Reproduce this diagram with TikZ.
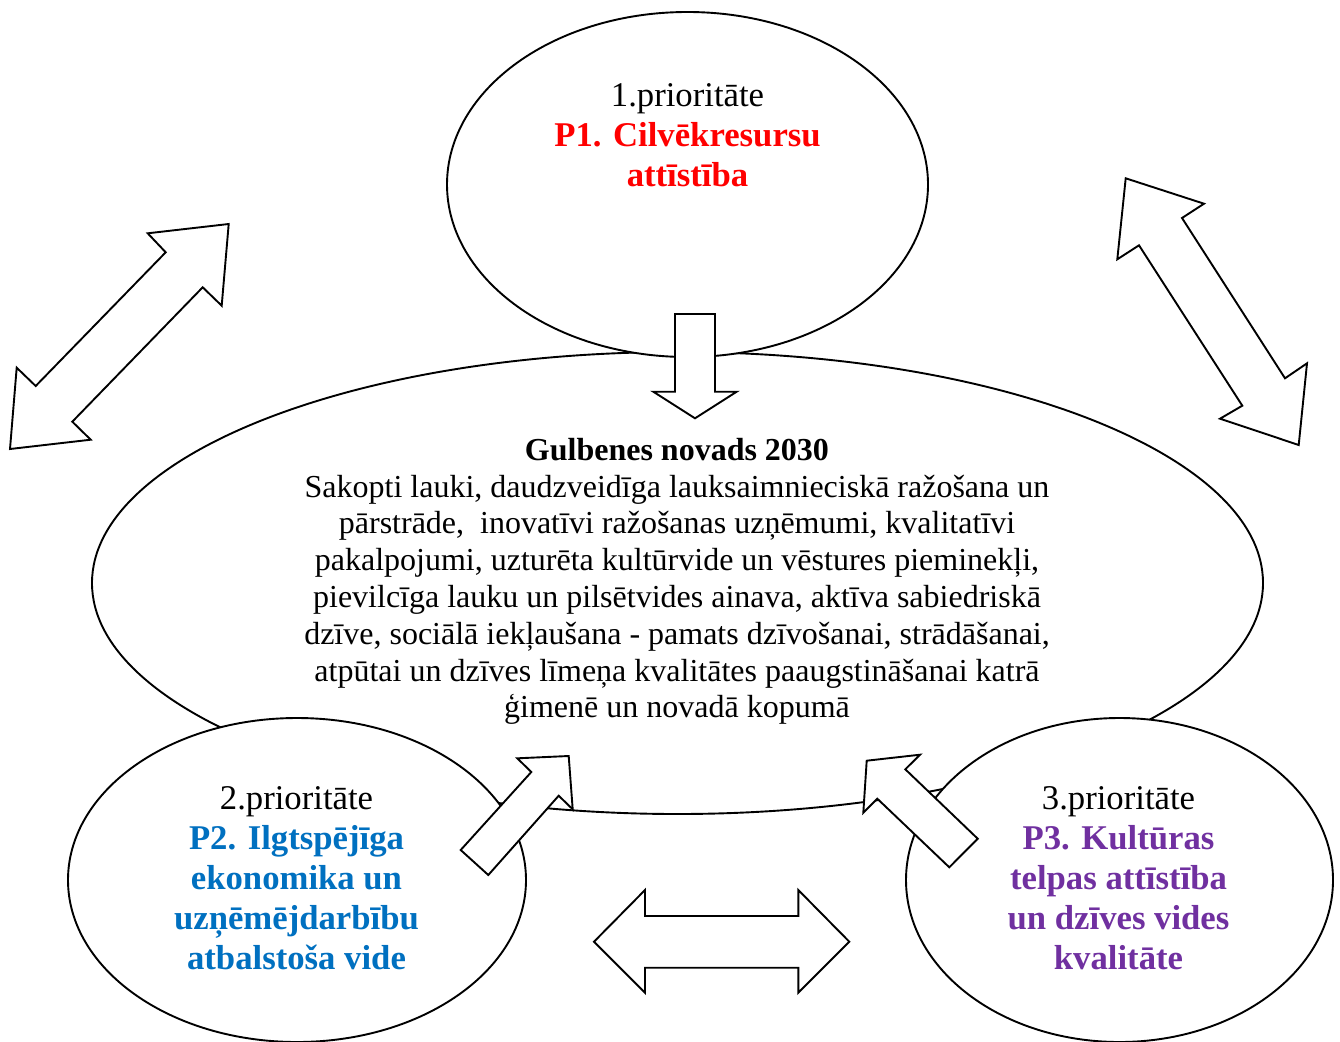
\documentclass[tikz,border=0pt]{standalone}
\usepackage{fontspec}
\setmainfont{Liberation Serif}
\usetikzlibrary{shapes.geometric}
\definecolor{pred}{HTML}{FF0000}
\definecolor{pblue}{HTML}{0070C0}
\definecolor{ppurple}{HTML}{7030A0}
\begin{document}
\begin{tikzpicture}[x=1pt,y=-1pt,
  oval/.style={draw, ellipse, fill=white, line width=1.9pt, inner sep=0pt, outer sep=0pt},
  blockarrow/.style={draw, fill=white, line width=1.9pt, line join=miter},
  maintext/.style={align=center, font=\fontsize{32}{36.8}\selectfont, inner sep=0pt},
  sidetext/.style={align=center, font=\fontsize{34.7}{40}\selectfont, inner sep=0pt}]
\useasboundingbox (0,0) rectangle (1340,1041);
% ellipses
\node[oval, minimum width=1171pt, minimum height=462pt] (center) at (677.5,583) {};
\node[oval, minimum width=481pt, minimum height=345pt] (p1) at (687.5,184.5) {};
\node[oval, minimum width=458pt, minimum height=324pt] (p2) at (297,880) {};
\node[oval, minimum width=427pt, minimum height=324pt] (p3) at (1119.5,880) {};
% block arrows
\draw[blockarrow] (228.7,224) -- (147.7,233.3) -- (165.7,252.3) -- (35.7,386) -- (16.7,367.7) -- (10,449) -- (90.7,439.7) -- (72.3,421.7) -- (202.7,287.3) -- (221.7,305.7) -- cycle;
\draw[blockarrow] (1125.7,178.3) -- (1204,203.7) -- (1182,218) -- (1285,378.3) -- (1307,363.3) -- (1298.7,445) -- (1220,418.7) -- (1242.3,405.7) -- (1139,245.3) -- (1117.3,259.3) -- cycle;
\draw[blockarrow] (675,314) -- (715,314) -- (715,391.7) -- (736.7,391.7) -- (695,418.3) -- (653.3,391.7) -- (675,391.7) -- cycle;
\draw[blockarrow] (517.3,758.3) -- (568.7,756) -- (572.7,809.3) -- (558.7,795.7) -- (488.3,875) -- (460.7,850) -- (531.3,772) -- cycle;
\draw[blockarrow] (866.7,760.7) -- (920,754.7) -- (905.3,769.3) -- (977.7,838.7) -- (949.3,867.3) -- (877.3,798.7) -- (863.3,812.7) -- cycle;
\draw[blockarrow] (594,941.7) -- (645,890) -- (645,916) -- (798.3,916) -- (798.3,890) -- (849.3,941.7) -- (798.3,992.7) -- (798.3,967.7) -- (645,967.7) -- (645,992.7) -- cycle;
% texts
\node[sidetext] (t1) at (687.5,135) {1.prioritāte\\\textcolor{pred}{\textbf{P1. Cilvēkresursu}}\\\textcolor{pred}{\textbf{attīstība}}};
\node[sidetext] (t2) at (296.5,878.5) {2.prioritāte\\\textcolor{pblue}{\textbf{P2. Ilgtspējīga}}\\\textcolor{pblue}{\textbf{ekonomika un}}\\\textcolor{pblue}{\textbf{uzņēmējdarbību}}\\\textcolor{pblue}{\textbf{atbalstoša vide}}};
\node[sidetext] (t3) at (1118.5,878.5) {3.prioritāte\\\textcolor{ppurple}{\textbf{P3. Kultūras}}\\\textcolor{ppurple}{\textbf{telpas attīstība}}\\\textcolor{ppurple}{\textbf{un dzīves vides}}\\\textcolor{ppurple}{\textbf{kvalitāte}}};
\node[maintext] (ct) at (677,581.5) {\textbf{Gulbenes novads 2030}\\Sakopti lauki, daudzveidīga lauksaimnieciskā ražošana un\\pārstrāde,\ \ inovatīvi ražošanas uzņēmumi, kvalitatīvi\\pakalpojumi, uzturēta kultūrvide un vēstures pieminekļi,\\pievilcīga lauku un pilsētvides ainava, aktīva sabiedriskā\\dzīve, sociālā iekļaušana - pamats dzīvošanai, strādāšanai,\\atpūtai un dzīves līmeņa kvalitātes paaugstināšanai katrā\\ģimenē un novadā kopumā};
\end{tikzpicture}
\end{document}
